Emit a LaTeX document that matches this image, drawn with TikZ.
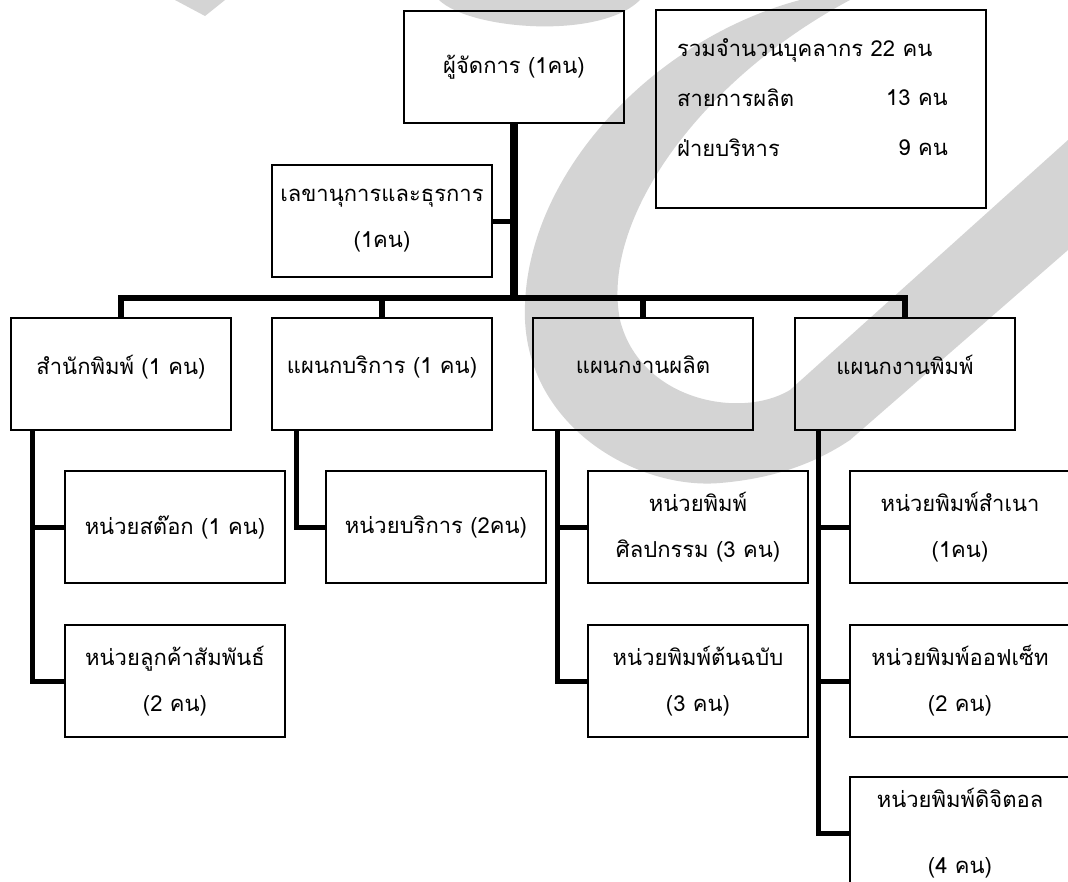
\documentclass[tikz,border=0pt]{standalone}
\usepackage{fontspec}
\newfontfamily\thai[Script=Thai]{Loma}
\usepackage{tikz}
\tikzstyle{orgbox}=[draw,line width=1.6pt,minimum width=220pt,minimum height=112pt,inner sep=0pt,align=center,font=\thai\fontsize{22}{46}\selectfont]
\tikzstyle{deptbox}=[orgbox,text depth=18pt]
\tikzstyle{sumtext}=[inner sep=0pt,font=\thai\fontsize{22}{46}\selectfont]
\tikzstyle{trunk}=[line width=8.5pt]
\tikzstyle{bus}=[line width=6pt]
\tikzstyle{twig}=[line width=5pt]
\tikzstyle{wmark}=[fill=black!17]

\begin{document}
\begin{tikzpicture}[x=1pt,y=-1pt]
\clip (0,0) rectangle (1068,881);
\fill[white] (0,0) rectangle (1068,881);
\fill[wmark] (800,0) .. controls (650,40) and (520,180) .. (525,320) .. controls (530,430) and (640,490) .. (720,483) .. controls (780,478) and (820,460) .. (850,440) -- (1068,250) -- (1068,140) -- (790,390) .. controls (740,420) and (640,400) .. (620,320) .. controls (600,220) and (700,80) .. (850,0) -- cycle;
\fill[wmark] (439,0) .. controls (470,30) and (600,40) .. (640,0) -- cycle;
\fill[wmark] (175,0) -- (225,0) -- (205,16) -- cycle;
\node[orgbox] (mgr) at (514,67) {ผู้จัดการ (1คน)};
\node[draw,line width=1.6pt,minimum width=330pt,minimum height=198pt] (sum) at (821,109) {};
\node[sumtext,anchor=west] (tot) at (677,50) {รวมจำนวนบุคลากร 22 คน};
\node[sumtext,anchor=west] (prod) at (677,98) {สายการผลิต};
\node[sumtext,anchor=east] (prodn) at (948,98) {13 คน};
\node[sumtext,anchor=west] (adm) at (677,148) {ฝ่ายบริหาร};
\node[sumtext,anchor=east] (admn) at (948,148) {9 คน};
\node[orgbox] (sec) at (382,221) {เลขานุการและธุรการ\\(1คน)};
\node[deptbox] (pub) at (121,374) {สำนักพิมพ์ (1 คน)};
\node[deptbox] (svc) at (382,374) {แผนกบริการ (1 คน)};
\node[deptbox] (prd) at (643,374) {แผนกงานผลิต};
\node[deptbox] (prt) at (905,374) {แผนกงานพิมพ์};
\node[orgbox] (stock) at (175,527) {หน่วยสต๊อก (1 คน)};
\node[orgbox] (cust) at (175,681) {หน่วยลูกค้าสัมพันธ์\\(2 คน)};
\node[orgbox] (care) at (436,527) {หน่วยบริการ (2คน)};
\node[orgbox] (art) at (698,527) {หน่วยพิมพ์\\ศิลปกรรม (3 คน)};
\node[orgbox] (orig) at (698,681) {หน่วยพิมพ์ต้นฉบับ\\(3 คน)};
\node[orgbox] (copy) at (960,527) {หน่วยพิมพ์สำเนา\\(1คน)};
\node[orgbox] (offs) at (960,681) {หน่วยพิมพ์ออฟเซ็ท\\(2 คน)};
\node[orgbox] (digi) at (960,833) {หน่วยพิมพ์ดิจิตอล\\[20pt](4 คน)};
\coordinate (hub) at (514,298);
\draw[trunk] (mgr.south) -- (hub);
\draw[twig] (sec.east) -- (sec.east -| mgr.south);
\draw[bus] (hub) -| (pub.north);
\draw[bus] (hub) -| (svc.north);
\draw[bus] (hub) -| (prd.north);
\draw[bus] (hub) -| (prt.north);
\draw[twig] ([xshift=22pt]pub.south west) |- (stock.west);
\draw[twig] ([xshift=22pt]pub.south west) |- (cust.west);
\draw[twig] ([xshift=25pt]svc.south west) |- (care.west);
\draw[twig] ([xshift=25pt]prd.south west) |- (art.west);
\draw[twig] ([xshift=25pt]prd.south west) |- (orig.west);
\draw[twig] ([xshift=24pt]prt.south west) |- (copy.west);
\draw[twig] ([xshift=24pt]prt.south west) |- (offs.west);
\draw[twig] ([xshift=24pt]prt.south west) |- (digi.west);
\end{tikzpicture}
\end{document}
